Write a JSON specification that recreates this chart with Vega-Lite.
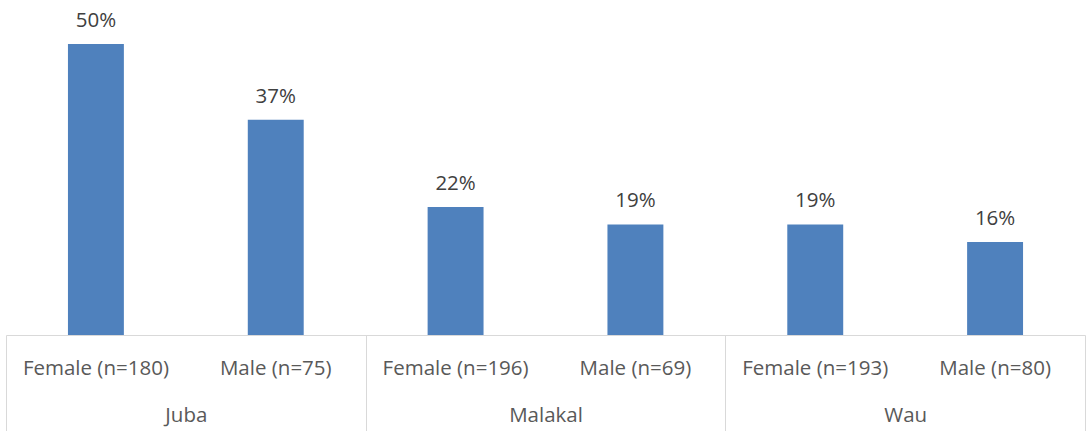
{
  "$schema": "https://vega.github.io/schema/vega-lite/v6.json",
  "width": 1079,
  "height": 335,
  "autosize": {"type": "none"},
  "padding": {"left": 6, "top": 0, "right": 4, "bottom": 96},
  "background": "white",
  "config": {"view": {"stroke": null}, "font": "Open Sans"},
  "data": {
    "values": [
      {"City": "Juba", "Group": "Female (n=180)", "Key": "Juba|Female (n=180)", "Value": 0.50},
      {"City": "Juba", "Group": "Male (n=75)", "Key": "Juba|Male (n=75)", "Value": 0.37},
      {"City": "Malakal", "Group": "Female (n=196)", "Key": "Malakal|Female (n=196)", "Value": 0.22},
      {"City": "Malakal", "Group": "Male (n=69)", "Key": "Malakal|Male (n=69)", "Value": 0.19},
      {"City": "Wau", "Group": "Female (n=193)", "Key": "Wau|Female (n=193)", "Value": 0.19},
      {"City": "Wau", "Group": "Male (n=80)", "Key": "Wau|Male (n=80)", "Value": 0.16}
    ]
  },
  "layer": [
    {
      "encoding": {
        "x": {
          "field": "Key", "type": "nominal", "sort": null,
          "scale": {"paddingInner": 0.689, "paddingOuter": 0.3445},
          "axis": {
            "orient": "bottom", "title": null, "ticks": false,
            "domain": true, "domainColor": "#d9d9d9", "domainWidth": 1,
            "labelExpr": "split(datum.value, '|')[1]",
            "labelAngle": 0, "labelFont": "Open Sans", "labelFontSize": 20.5,
            "labelColor": "#595959", "labelBaseline": "alphabetic",
            "labelPadding": 39, "labelOverlap": false
          }
        },
        "y": {
          "field": "Value", "type": "quantitative",
          "scale": {"domain": [0, 0.5756], "nice": false, "zero": true},
          "axis": null
        }
      },
      "layer": [
        {"mark": {"type": "bar", "color": "#4f81bd"}},
        {
          "mark": {"type": "text", "baseline": "alphabetic", "dy": -17, "fontSize": 20.5, "font": "Open Sans", "color": "#404040"},
          "encoding": {"text": {"field": "Value", "type": "quantitative", "format": ".0%"}}
        }
      ]
    },
    {
      "mark": {"type": "text", "opacity": 0},
      "encoding": {
        "x": {
          "field": "City", "type": "nominal", "sort": null,
          "scale": {"paddingInner": 0, "paddingOuter": 0},
          "axis": {
            "orient": "bottom", "title": null, "domain": false,
            "ticks": true, "tickBand": "extent", "tickSize": 96,
            "tickColor": "#d9d9d9", "tickWidth": 1,
            "labelAngle": 0, "labelFont": "Open Sans", "labelFontSize": 20.5,
            "labelColor": "#595959", "labelBaseline": "alphabetic",
            "labelPadding": -10, "labelOverlap": false
          }
        },
        "text": {"field": "City"}
      }
    }
  ],
  "resolve": {"scale": {"x": "independent"}, "axis": {"x": "independent"}}
}
